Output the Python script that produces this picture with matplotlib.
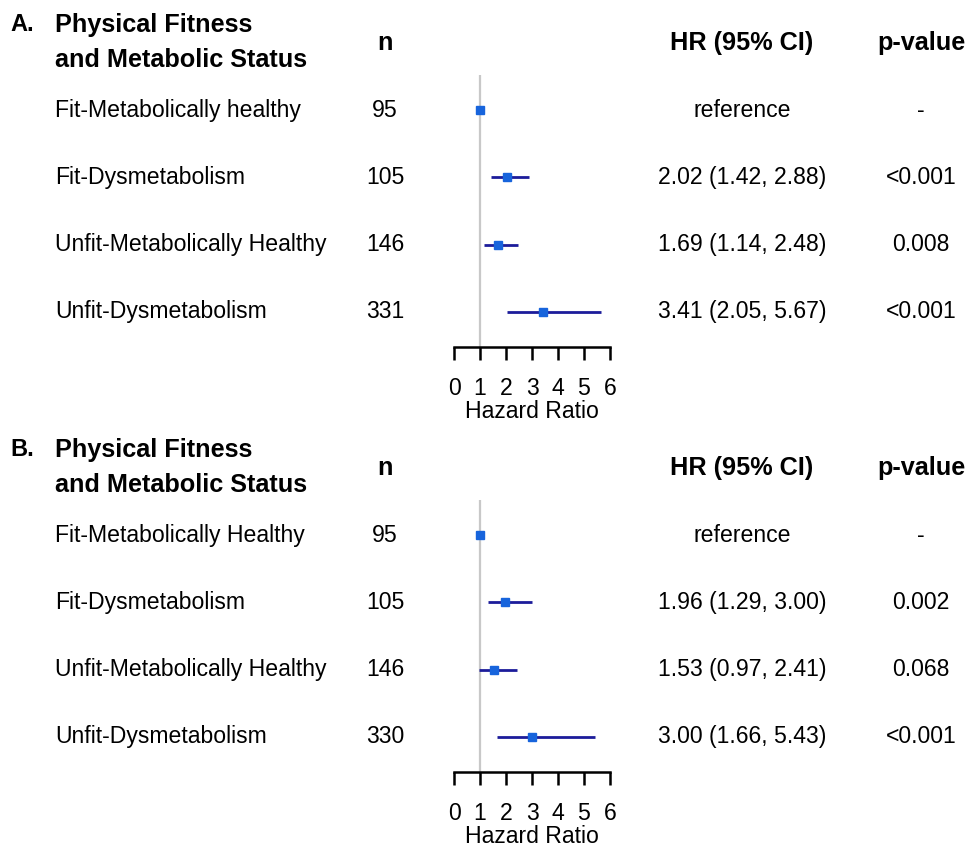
import numpy as np
import matplotlib.pyplot as plt
from matplotlib.transforms import blended_transform_factory

plt.rcParams['font.family'] = ['Liberation Sans', 'DejaVu Sans']

# panel A
labels_a = ['Fit-Metabolically healthy', 'Fit-Dysmetabolism',
            'Unfit-Metabolically Healthy', 'Unfit-Dysmetabolism']
n_a = [95, 105, 146, 331]
hr_a = [1.00, 2.02, 1.69, 3.41]
lo_a = [np.nan, 1.42, 1.14, 2.05]
hi_a = [np.nan, 2.88, 2.48, 5.67]
p_a = ['-', '<0.001', '0.008', '<0.001']

# panel B
labels_b = ['Fit-Metabolically Healthy', 'Fit-Dysmetabolism',
            'Unfit-Metabolically Healthy', 'Unfit-Dysmetabolism']
n_b = [95, 105, 146, 330]
hr_b = [1.00, 1.96, 1.53, 3.00]
lo_b = [np.nan, 1.29, 0.97, 1.66]
hi_b = [np.nan, 3.00, 2.41, 5.43]
p_b = ['-', '0.002', '0.068', '<0.001']

W, H = 971, 849
fig = plt.figure(figsize=(W / 100, H / 100), dpi=100)

LINE_COL = '#1c1c9a'
PT_COL = '#1764dc'
FS = 16.6    # body text
FS_HEAD = 18.2


def forest(tag, labels, n, hr, lo, hi, pv, top_px, bot_px):
    ax = fig.add_axes([454 / W, 1 - bot_px / H, 156 / W, (bot_px - top_px) / H])
    rows = np.arange(len(labels))
    ax.set_xlim(0, 6)
    ax.set_ylim(3.52, -0.52)
    ax.axvline(1, color='#c8c8c8', lw=1.6, zorder=1)
    ax.hlines(rows, lo, hi, color=LINE_COL, lw=2, zorder=2)
    ax.plot(hr, rows, 's', color=PT_COL, ms=6, zorder=3)

    for s in ['top', 'right', 'left']:
        ax.spines[s].set_visible(False)
    ax.spines['bottom'].set_linewidth(1.8)
    ax.set_yticks([])
    ax.set_xticks(range(7))
    ax.tick_params(axis='x', direction='out', length=9.5, width=1.8,
                   labelsize=FS, pad=12)
    ax.set_xlabel('Hazard Ratio', fontsize=FS, labelpad=0)
    ax.patch.set_visible(False)

    tr = blended_transform_factory(fig.transFigure, ax.transData)
    fx = lambda px: px / W

    # column headers
    ax.text(fx(10), -1.27, tag, transform=tr, fontsize=17, fontweight='bold',
            ha='left', va='center')
    ax.text(fx(55), -1.27, 'Physical Fitness', transform=tr, fontsize=FS_HEAD,
            fontweight='bold', ha='left', va='center')
    ax.text(fx(55), -0.75, 'and Metabolic Status', transform=tr, fontsize=FS_HEAD,
            fontweight='bold', ha='left', va='center')
    ax.text(fx(385), -1.0, 'n', transform=tr, fontsize=FS_HEAD, fontweight='bold',
            ha='center', va='center')
    ax.text(fx(742), -1.0, 'HR (95% CI)', transform=tr, fontsize=FS_HEAD,
            fontweight='bold', ha='center', va='center')
    ax.text(fx(921), -1.0, 'p-value', transform=tr, fontsize=FS_HEAD,
            fontweight='bold', ha='center', va='center')

    for i in rows:
        ax.text(fx(55), i, labels[i], transform=tr, fontsize=FS,
                ha='left', va='center')
        ax.text(fx(385), i, str(n[i]), transform=tr, fontsize=FS,
                ha='center', va='center')
        if np.isnan(lo[i]):
            hr_txt = 'reference'
        else:
            hr_txt = f'{hr[i]:.2f} ({lo[i]:.2f}, {hi[i]:.2f})'
        ax.text(fx(742), i, hr_txt, transform=tr, fontsize=FS,
                ha='center', va='center')
        ax.text(fx(921), i, pv[i], transform=tr, fontsize=FS,
                ha='center', va='center')
    return ax


forest('A.', labels_a, n_a, hr_a, lo_a, hi_a, p_a, 75, 347)
forest('B.', labels_b, n_b, hr_b, lo_b, hi_b, p_b, 500, 772)

fig.savefig('out.png', dpi=100)
